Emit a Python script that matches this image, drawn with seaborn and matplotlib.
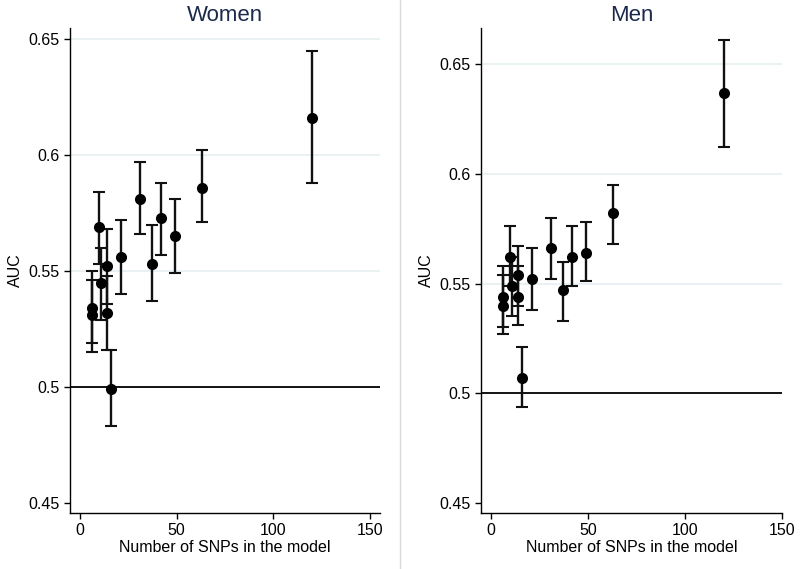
import matplotlib
matplotlib.use("Agg")
import matplotlib.pyplot as plt
import seaborn as sns
import pandas as pd
from matplotlib.lines import Line2D

# ---- data ----
n_snps = [6, 6, 10, 11, 14, 14, 16, 21, 31, 37, 42, 49, 63, 120]

women_auc = [0.534, 0.531, 0.569, 0.545, 0.552, 0.532, 0.499, 0.556, 0.581, 0.553, 0.573, 0.565, 0.586, 0.616]
women_lo = [0.519, 0.515, 0.553, 0.529, 0.536, 0.516, 0.483, 0.540, 0.566, 0.537, 0.557, 0.549, 0.571, 0.588]
women_hi = [0.550, 0.546, 0.584, 0.560, 0.568, 0.548, 0.516, 0.572, 0.597, 0.570, 0.588, 0.581, 0.602, 0.645]

men_auc = [0.544, 0.540, 0.562, 0.549, 0.554, 0.544, 0.507, 0.552, 0.566, 0.547, 0.562, 0.564, 0.582, 0.637]
men_lo = [0.530, 0.527, 0.549, 0.535, 0.540, 0.531, 0.494, 0.538, 0.552, 0.533, 0.549, 0.551, 0.568, 0.612]
men_hi = [0.558, 0.554, 0.576, 0.562, 0.567, 0.558, 0.521, 0.566, 0.580, 0.560, 0.576, 0.578, 0.595, 0.661]

y_ticks = [0.45, 0.5, 0.55, 0.6, 0.65]
y_tick_labels = ["0.45", "0.5", "0.55", "0.6", "0.65"]
x_ticks = [0, 50, 100, 150]
panel_titles = ["Women", "Men"]

sns.set_theme(style="white")
plt.rcParams['font.family'] = ['Liberation Sans', 'DejaVu Sans']

fig = plt.figure(figsize=(8.0, 5.69), dpi=100)
ax_w = fig.add_axes([70 / 800, 56 / 569, 310 / 800, 485 / 569])
ax_m = fig.add_axes([481 / 800, 56 / 569, 301 / 800, 485 / 569])

panels = [
    (ax_w, women_auc, women_lo, women_hi, (-5.2, 155.2), (0.4457, 0.6548)),
    (ax_m, men_auc, men_lo, men_hi, (-5.2, 150.2), (0.4455, 0.6664)),
]

for (ax, auc, lo, hi, xlim, ylim), title in zip(panels, panel_titles):
    df = pd.DataFrame({"n": n_snps, "auc": auc, "lo": lo, "hi": hi})
    # grid lines
    for yt in y_ticks[1:]:
        if yt != 0.5:
            ax.axhline(yt, color="#e8f0f1", lw=1.3, zorder=0)
    ax.axhline(0.5, color="black", lw=1.3, zorder=1)
    ax.errorbar(df["n"], df["auc"],
                yerr=[df["auc"] - df["lo"], df["hi"] - df["auc"]],
                fmt="none", ecolor="#111111", elinewidth=1.7, capsize=4,
                capthick=1.5, zorder=2)
    sns.scatterplot(data=df, x="n", y="auc", ax=ax, color="black", s=64,
                    edgecolor="black", linewidth=0, zorder=3, legend=False)
    ax.set_xlim(*xlim)
    ax.set_ylim(*ylim)
    ax.set_yticks(y_ticks)
    ax.set_yticklabels(y_tick_labels)
    ax.set_xticks(x_ticks)
    ax.tick_params(axis="both", which="both", direction="out", length=4.5,
                   width=1, color="black", labelsize=11.5, labelcolor="black",
                   bottom=True, left=True, pad=3)
    for s in ["top", "right"]:
        ax.spines[s].set_visible(False)
    for s in ["left", "bottom"]:
        ax.spines[s].set_color("black")
        ax.spines[s].set_linewidth(1.0)
    ax.set_xlabel("Number of SNPs in the model", fontsize=11.5, color="black", labelpad=1)
    ax.set_ylabel("AUC", fontsize=11.5, color="black", labelpad=4)
    ax.set_facecolor("white")
    ax.set_title(title, fontsize=16, color="#1b2a4a", pad=5)

# separator between panels
fig.add_artist(Line2D([0.5, 0.5], [0, 1], transform=fig.transFigure,
                      color="#d9d9d9", lw=1))

fig.savefig("out.png", dpi=100, facecolor="white")
